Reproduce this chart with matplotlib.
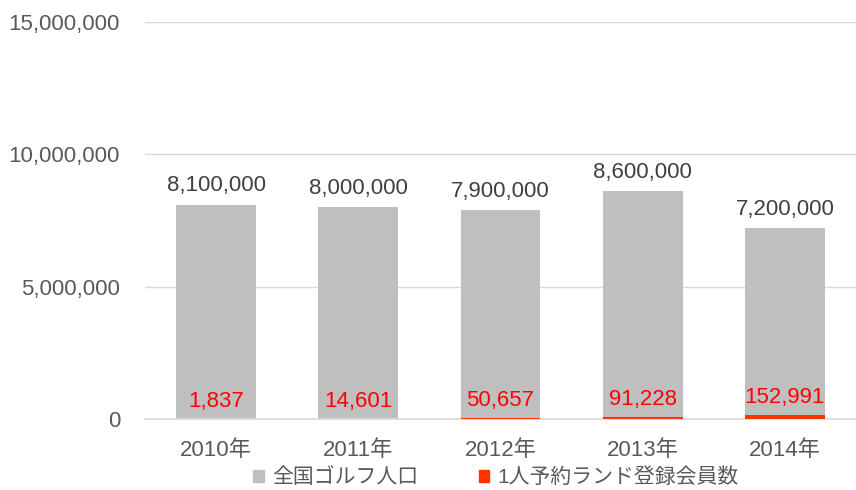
import matplotlib
matplotlib.use("Agg")
import matplotlib.pyplot as plt
from matplotlib.patches import Patch
from matplotlib.ticker import FuncFormatter

plt.rcParams['font.family'] = ['Liberation Sans', 'Noto Sans CJK JP']

years = ["2010年", "2011年", "2012年", "2013年", "2014年"]
golf_population = [8100000, 8000000, 7900000, 8600000, 7200000]
members = [1837, 14601, 50657, 91228, 152991]
series_names = ["全国ゴルフ人口", "1人予約ランド登録会員数"]

GRAY = "#BFBFBF"
ORANGE = "#FF3300"

fig = plt.figure(figsize=(8.56, 4.90), dpi=100)
ax = fig.add_axes([0.1694, 0.145, 0.8306, 0.81])

x = range(len(years))
w = 0.56
ax.bar(x, golf_population, width=w, color=GRAY, zorder=2)
ax.bar(x, members, width=w, color=ORANGE, zorder=3)

for i, v in enumerate(golf_population):
    ax.annotate(f"{v:,}", (i, v), xytext=(0, 6), textcoords="offset points",
                ha="center", va="bottom", fontsize=16, color="#404040")
for i, v in enumerate(members):
    ax.annotate(f"{v:,}", (i, v), xytext=(0, 5), textcoords="offset points",
                ha="center", va="bottom", fontsize=16, color="#FF0000", zorder=4)

ax.set_xlim(-0.5, len(years) - 0.5)
ax.set_ylim(0, 15000000)
ax.set_yticks([0, 5000000, 10000000, 15000000])
ax.yaxis.set_major_formatter(FuncFormatter(lambda v, p: f"{int(v):,}"))
ax.set_xticks(list(x))
ax.set_xticklabels(years)
ax.tick_params(axis="y", length=0, pad=18, labelsize=16, labelcolor="#595959")
ax.tick_params(axis="x", length=0, pad=15, labelsize=16, labelcolor="#595959")
ax.grid(axis="y", color="#D9D9D9", linewidth=1, zorder=0)
for s in ["top", "right", "left"]:
    ax.spines[s].set_visible(False)
ax.spines["bottom"].set_color("#D9D9D9")
ax.spines["bottom"].set_linewidth(1.2)

handles = [Patch(color=GRAY), Patch(color=ORANGE)]
fig.legend(handles, series_names, loc="center", bbox_to_anchor=(0.5795, 0.026),
           ncol=2, frameon=False, fontsize=15, handlelength=0.5, handleheight=0.5,
           handletextpad=0.4, columnspacing=2.9, labelcolor="#595959",
           borderpad=0.1)

fig.savefig("out.png", dpi=100)
